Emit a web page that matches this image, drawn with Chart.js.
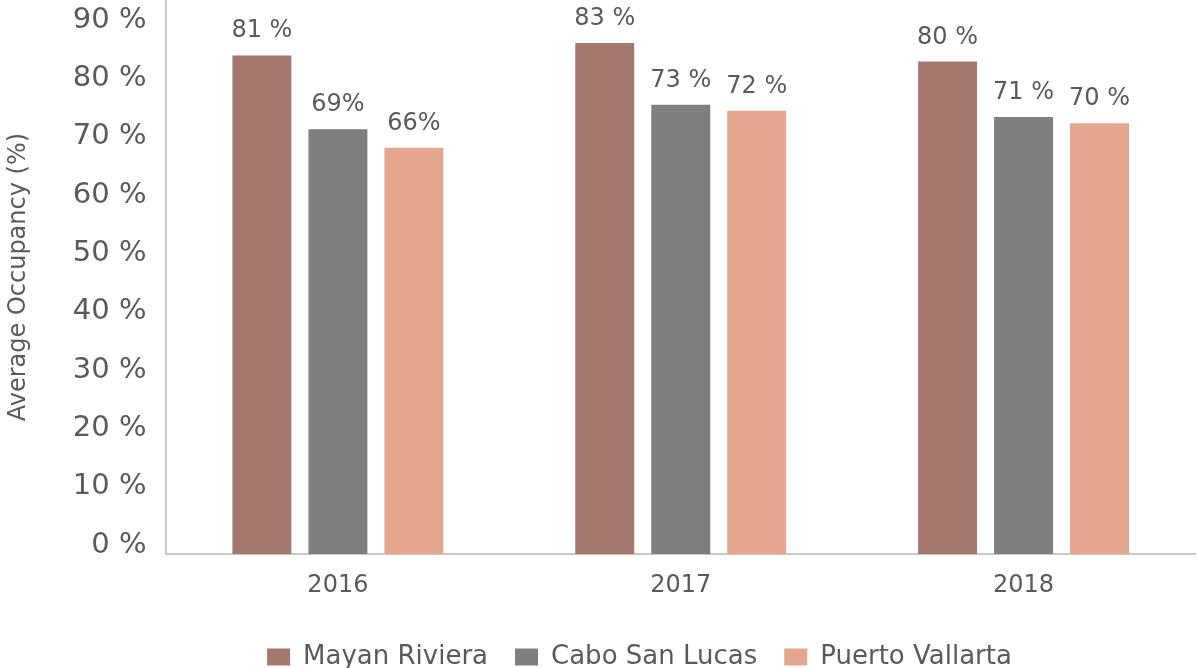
<!DOCTYPE html>
<html>
<head>
<meta charset="utf-8">
<script src="https://cdn.jsdelivr.net/npm/chart.js@4/dist/chart.umd.min.js"></script>
<style>
  html, body { margin: 0; padding: 0; background: #fff; }
  #chart { display: block; }
</style>
</head>
<body>
<canvas id="chart" width="1197" height="668"></canvas>
<script>
// --- Data ---
const years = ['2016', '2017', '2018'];
const mayanRiviera = [81, 83, 80];
const caboSanLucas = [69, 73, 71];
const puertoVallarta = [66, 72, 70];
const seriesNames = ['Mayan Riviera', 'Cabo San Lucas', 'Puerto Vallarta'];
const yTicks = [0, 10, 20, 30, 40, 50, 60, 70, 80, 90];
// the original prints "69%" / "66%" without the space
const labelSep = [[' ', ' ', ' '], ['', ' ', ' '], ['', ' ', ' ']];

const colors = ['#a5786f', '#7f7f7f', '#e4a78d'];
const textColor = '#5a5a5a';
const axisColor = '#c9c9c9';
const font = '"DejaVu Sans", sans-serif';

// --- Value labels over bars ---
const valueLabels = {
  id: 'valueLabels',
  afterDatasetsDraw(chart) {
    const ctx = chart.ctx;
    ctx.save();
    ctx.font = '24px ' + font;
    ctx.fillStyle = textColor;
    ctx.textAlign = 'center';
    ctx.textBaseline = 'alphabetic';
    chart.data.datasets.forEach((ds, i) => {
      chart.getDatasetMeta(i).data.forEach((bar, j) => {
        ctx.fillText(ds.data[j] + labelSep[i][j] + '%', bar.x, bar.y - 18);
      });
    });
    ctx.restore();
  }
};

// legend sits a little right of centre in the original
const legendShift = {
  id: 'legendShift',
  afterLayout(chart) {
    chart.legend.left += 42;
    chart.legend.right += 42;
  }
};

new Chart(document.getElementById('chart'), {
  type: 'bar',
  data: {
    labels: years,
    datasets: [mayanRiviera, caboSanLucas, puertoVallarta].map((d, i) => ({
      label: seriesNames[i],
      data: d,
      backgroundColor: colors[i],
      borderWidth: 0,
      yAxisID: 'y',
      categoryPercentage: 0.665,
      barPercentage: 0.776
    }))
  },
  options: {
    responsive: false,
    devicePixelRatio: 1,
    animation: false,
    layout: { padding: { left: 0, right: 2, top: 0, bottom: -12 } },
    plugins: {
      tooltip: { enabled: false },
      legend: {
        position: 'bottom',
        labels: {
          boxWidth: 23,
          boxHeight: 17,
          padding: 27,
          color: textColor,
          font: { family: font, size: 26 }
        }
      }
    },
    scales: {
      x: {
        grid: { display: false, drawTicks: false },
        border: { color: axisColor, width: 2 },
        ticks: { color: textColor, font: { family: font, size: 24 }, padding: 17 }
      },
      y: { display: false, min: 0, max: 90 },
      yl: {
        position: 'left',
        min: -1.55,
        max: 93.44,
        afterBuildTicks: axis => { axis.ticks = yTicks.map(v => ({ value: v })); },
        afterFit: axis => { axis.paddingTop = 0; axis.paddingBottom = 0; },
        grid: { display: false, drawTicks: false },
        border: { color: axisColor, width: 2 },
        ticks: {
          color: textColor,
          font: { family: font, size: 29 },
          padding: 20,
          callback: v => v + ' %'
        },
        title: {
          display: true,
          text: 'Average Occupancy (%)',
          color: textColor,
          font: { family: font, size: 24 },
          padding: { top: 4, bottom: 20 }
        }
      }
    }
  },
  plugins: [valueLabels, legendShift]
});
</script>
</body>
</html>
